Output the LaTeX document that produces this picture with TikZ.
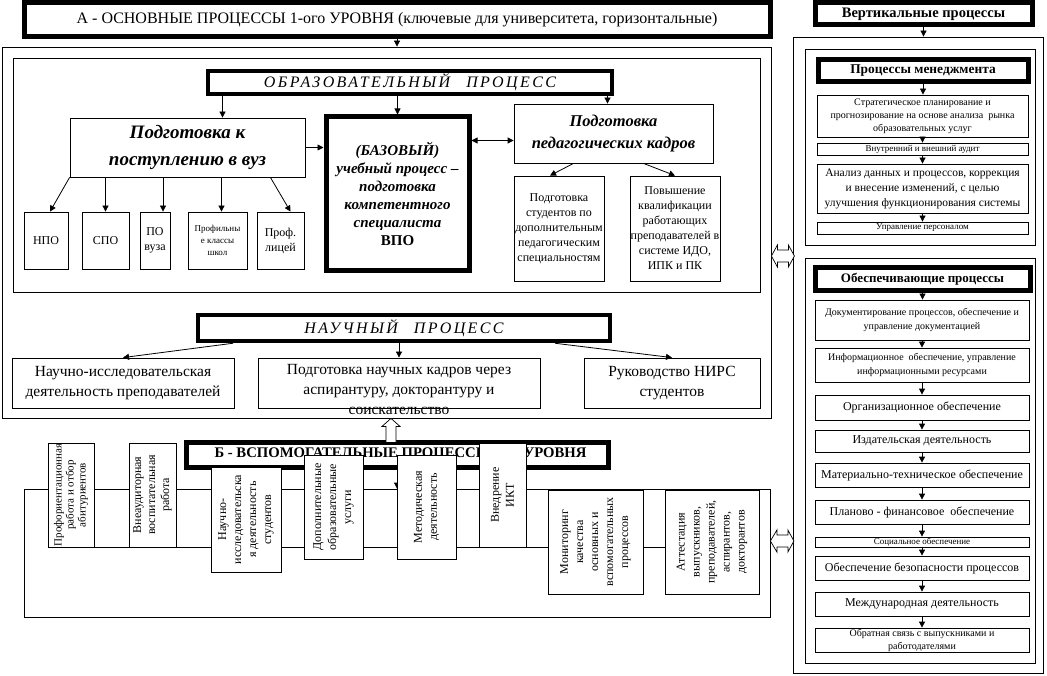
\documentclass[tikz,border=0pt]{standalone}
\usepackage{fontspec}
\setmainfont{Liberation Serif}
\newfontfamily\spacedfont[LetterSpace=15]{Liberation Serif}
\usetikzlibrary{arrows.meta}
\newcommand{\fsz}[2]{\fontsize{#1}{#2}\selectfont}
\tikzset{panel/.style={draw,line width=0.8pt,inner sep=0pt},box/.style={draw,line width=0.8pt,fill=white,inner sep=0pt,align=center},hdr/.style={draw,line width=5pt,fill=white,inner sep=0pt,align=center},vbox/.style={box,rotate=90},sz/.style 2 args={minimum width=#1,minimum height=#2},flow/.style={->,line width=0.8pt},openarrow/.style={draw,line width=0.7pt,fill=white}}

\begin{document}
\begin{tikzpicture}[x=1pt,y=-1pt,>={Triangle[length=6pt,width=6pt]}]
\useasboundingbox (0,0) rectangle (1047,676);
\node[hdr,sz={746}{34},font=\fsz{16}{18}] (hdrA) at (397,20) {А - ОСНОВНЫЕ ПРОЦЕССЫ 1-ого УРОВНЯ (ключевые для университета, горизонтальные)};
\node[panel,sz={769}{371}] (mainbox) at (386.5,232.5) {};
\draw[flow] (hdrA) -- (hdrA |- mainbox.north);
\node[panel,sz={747}{234}] (edubox) at (386.5,175) {};
\node[hdr,line width=4.5pt,sz={404}{23},font=\spacedfont\itshape\fsz{16}{18}] (eduhdr) at (410,82.5) {ОБРАЗОВАТЕЛЬНЫЙ\quad ПРОЦЕСС};
\node[box,sz={235}{59},font=\bfseries\itshape\fsz{19}{27}] (prep) at (187.5,147.5) {Подготовка к\\поступлению в вуз};
\node[box,sz={44}{57},font=\fsz{12}{14}] (npo) at (46,240.5) {НПО};
\node[box,sz={47}{57},font=\fsz{12}{14}] (spo) at (105.5,240.5) {СПО};
\node[box,sz={30}{57},font=\fsz{12}{15}] (povuz) at (155,240.5) {ПО\\вуза};
\node[box,sz={59}{57},font=\fsz{9}{12}] (profkl) at (217.5,240.5) {Профильны\\е классы\\школ};
\node[box,sz={47}{57},font=\fsz{12}{15}] (proflic) at (280.5,240.5) {Проф.\\лицей};
\node[hdr,sz={143}{154},font=\bfseries\itshape\fsz{15}{18}] (base) at (397.5,194) {(БАЗОВЫЙ)\\учебный процесс –\\подготовка\\компетентного\\специалиста\\{\upshape ВПО}};
\node[box,sz={199}{59},font=\bfseries\itshape\fsz{16.5}{22}] (pedk) at (613.5,133.5) {Подготовка\\педагогических кадров};
\node[box,sz={90}{105},font=\fsz{12}{15}] (pedst) at (559,228.5) {Подготовка\\студентов по\\дополнительным\\педагогическим\\специальностям};
\node[box,sz={90}{105},font=\fsz{12}{15}] (pedqual) at (675,228.5) {Повышение\\квалификации\\работающих\\преподавателей в\\системе ИДО,\\ИПК и ПК};
\coordinate (pA) at ([xshift=35pt]prep.north);
\coordinate (pB) at ([xshift=-6pt]pedk.north);
\coordinate (pC) at ([yshift=-7pt]pedk.west);
\coordinate (pD) at ([xshift=8pt]povuz.north);
\coordinate (pE) at ([xshift=4pt]profkl.north);
\draw[flow] (pA |- eduhdr.south) -- (pA);
\draw[flow] (base.north |- eduhdr.south) -- (base.north);
\draw[flow] (pB |- eduhdr.south) -- (pB);
\draw[flow] (prep.east) -- (prep.east -| base.west);
\draw[flow,<->] (pC) -- (pC -| base.east);
\draw[flow] (prep.south west) -- ([xshift=4pt]npo.north);
\draw[flow] (spo.north |- prep.south) -- (spo.north);
\draw[flow] (pD |- prep.south) -- (pD);
\draw[flow] (pE |- prep.south) -- (pE);
\draw[flow] ([xshift=-35pt]prep.south east) -- ([xshift=10pt]proflic.north);
\draw[flow] ([xshift=-40pt]pedk.south) -- ([xshift=-9pt]pedst.north);
\draw[flow] ([xshift=30pt]pedk.south) -- (pedqual.north);
\node[hdr,line width=4.5pt,sz={412}{26},font=\spacedfont\itshape\fsz{16}{18}] (scihdr) at (404,328) {НАУЧНЫЙ\quad ПРОЦЕСС};
\node[box,sz={222}{50},font=\fsz{15.5}{20}] (sci1) at (123,383) {Научно-исследовательская\\деятельность преподавателей};
\node[box,sz={282}{50}] (sci2) at (399,383) {};
\node[anchor=north,align=center,inner sep=0pt,font=\fsz{15.5}{20}] (sci2txt) at ([yshift=-7pt]sci2.north) {Подготовка научных кадров через\\аспирантуру, докторантуру и\\соискательство};
\node[box,sz={176}{50},font=\fsz{15.5}{20}] (sci3) at (672,383) {Руководство НИРС\\студентов};
\draw[flow] ([xshift=-171pt]scihdr.south) -- (sci1.north);
\draw[flow] (sci2.north |- scihdr.south) -- (sci2.north);
\draw[flow] ([xshift=151pt]scihdr.south) -- (sci3.north);
\node[panel,sz={746}{128}] (auxbox) at (397,553) {};
\node[hdr,sz={422}{25},font=\bfseries\fsz{14.7}{16}] (hdrB) at (397,454.5) {\hspace{7pt}Б - ВСПОМОГАТЕЛЬНЫЕ ПРОЦЕССЫ 2-го УРОВНЯ};
\draw[flow] (hdrB.south) -- (hdrB.south |- auxbox.north);
\coordinate (pF) at ([xshift=-6pt]hdrB.north);
\draw[openarrow] (pF |- mainbox.south) -- ++(-9,8) -- ++(4,0) -- ++(0,16) -- ++(10,0) -- ++(0,-16) -- ++(4,0) -- cycle;
\node[vbox,sz={104}{46},font=\fsz{11}{12}] (v1) at (71,495) {Профориентационная\\работа и отбор\\абитуриентов};
\node[vbox,sz={104}{94},font=\fsz{12}{15}] (v8) at (712,542) {Аттестация\\выпускников,\\преподавателей,\\аспирантов,\\докторантов};
\draw[line width=0.8pt] (v1.north west) -- (v1.north west -| v8.north west);
\node[vbox,sz={104}{47},font=\fsz{12}{14}] (v2) at (152.5,495) {Внеаудиторная\\воспитательная\\работа};
\node[vbox,sz={105}{70},font=\fsz{12}{15}] (v3) at (246,519.5) {Научно-\\исследовательска\\я деятельность\\студентов};
\node[vbox,sz={104}{59},font=\fsz{12}{15}] (v4) at (333.5,507) {Дополнительные\\образовательные\\услуги};
\node[vbox,sz={104}{59},font=\fsz{12}{15}] (v5) at (426.5,507) {Методическая\\деятельность};
\node[vbox,sz={104}{47},font=\fsz{12}{15}] (v6) at (502.5,495) {Внедрение\\ИКТ};
\node[vbox,sz={104}{95},font=\fsz{12}{15}] (v7) at (595.5,542) {Мониторинг\\качества\\основных и\\вспомогательных\\процессов};
\node[hdr,sz={217}{22},font=\bfseries\fsz{14.5}{16}] (vhdr) at (923.5,14) {Вертикальные процессы};
\node[panel,sz={250}{636}] (outerR) at (918,355) {};
\draw[flow] (vhdr.south) -- (vhdr.south |- outerR.north);
\node[panel,sz={230}{196}] (mgmtbox) at (920,147) {};
\node[hdr,sz={210}{22},font=\bfseries\fsz{13.4}{15}] (mgmthdr) at (923,71) {Процессы менеджмента};
\node[box,sz={211}{42},font=\fsz{10}{13}] (m1) at (922.5,116) {Стратегическое планирование и\\прогнозирование на основе анализа \ рынка\\образовательных услуг};
\node[box,sz={211}{12},font=\fsz{9}{11}] (m2) at (922.5,149) {Внутренний и внешний аудит};
\node[box,sz={211}{49},font=\fsz{11.5}{15}] (m3) at (922.5,188.5) {Анализ данных и процессов, коррекция\\и внесение изменений, с целью\\улучшения функционирования системы};
\node[box,sz={211}{12},font=\fsz{9}{11}] (m4) at (922.5,228) {Управление персоналом};
\node[panel,sz={230}{405}] (suppbox) at (920,460.5) {};
\node[hdr,sz={215}{23},font=\bfseries\fsz{13}{15}] (supphdr) at (922.5,279.5) {Обеспечивающие процессы};
\node[box,sz={214}{40},font=\fsz{10}{14}] (s1) at (922,320) {Документирование процессов, обеспечение и\\управление документацией};
\node[box,sz={214}{34},font=\fsz{10}{14}] (s2) at (922,365) {Информационное \ обеспечение, управление\\информационными ресурсами};
\node[box,sz={214}{25},font=\fsz{12}{14}] (s3) at (922,407.5) {Организационное обеспечение};
\node[box,sz={214}{22},font=\fsz{12}{14}] (s4) at (922,441) {Издательская деятельность};
\node[box,sz={214}{24},font=\fsz{12}{14}] (s5) at (922,475) {Материально-техническое обеспечение};
\node[box,sz={214}{24},font=\fsz{12}{14}] (s6) at (922,512) {Планово - финансовое \ обеспечение};
\node[box,sz={214}{10},font=\fsz{9}{10}] (s7) at (922,542) {Социальное обеспечение};
\node[box,sz={214}{24},font=\fsz{12}{14}] (s8) at (922,568) {Обеспечение безопасности процессов};
\node[box,sz={214}{24},font=\fsz{12}{14}] (s9) at (922,604) {Международная деятельность};
\node[box,sz={214}{24},font=\fsz{10}{13}] (s10) at (922,640) {Обратная связь с выпускниками и\\работодателями};
\foreach \a/\b in {mgmthdr/m1,m1/m2,m2/m3,m3/m4,supphdr/s1,s1/s2,s2/s3,s3/s4,s4/s5,s5/s6,s6/s7,s7/s8,s8/s9,s9/s10}
  \draw[flow] (\a.south) -- (\a.south |- \b.north);
\coordinate (lkA) at (0,256);
\coordinate (lkB) at (0,541);
\draw[openarrow] (mainbox.east |- lkA) -- ++(6,-11) -- ++(0,5) -- ++(11,0) -- ++(0,-5) -- ++(6,11) -- ++(-6,11) -- ++(0,-5) -- ++(-11,0) -- ++(0,5) -- cycle;
\draw[openarrow] (auxbox.east |- lkB) -- ++(6.5,-11) -- ++(0,5) -- ++(11,0) -- ++(0,-5) -- ++(6,11) -- ++(-6,11) -- ++(0,-5) -- ++(-11,0) -- ++(0,5) -- cycle;
\end{tikzpicture}
\end{document}
